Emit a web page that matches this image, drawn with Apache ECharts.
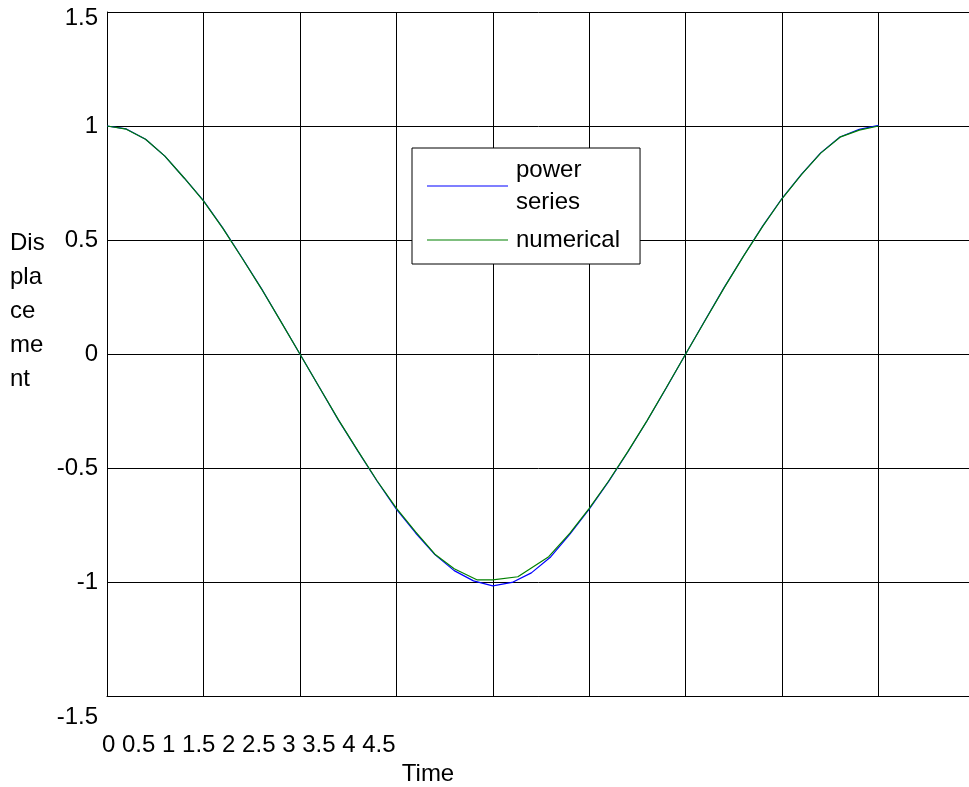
<!DOCTYPE html>
<html>
<head>
<meta charset="utf-8">
<script src="https://cdn.jsdelivr.net/npm/echarts@6/dist/echarts.min.js"></script>
<style>html,body{margin:0;padding:0;background:#fff;overflow:hidden;}#chart{width:969px;height:787px;}</style>
</head>
<body>
<div id="chart"></div>
<script>
// ---- data ----
const xTickLabels = ['0','0.5','1','1.5','2','2.5','3','3.5','4','4.5'];
const yTickLabels = ['-1.5','-1','-0.5','0','0.5','1','1.5'];
const seriesNames = ['power series', 'numerical'];
const xAxisTitle = 'Time';
const yAxisTitle = 'Dis\npla\nce\nme\nnt';

const powerTime = [0.0,0.1,0.2,0.3,0.4,0.5,0.6,0.7,0.8,0.9,1.0,1.1,1.2,1.3,1.4,1.5,1.6,1.7,1.8,1.9,2.0,
  2.1,2.2,2.3,2.4,2.5,2.6,2.7,2.8,2.9,3.0,3.1,3.2,3.3,3.4,3.5,3.6,3.7,3.8,3.9,4.0];
const powerValues = [1.000,0.987,0.942,0.868,0.772,0.673,0.553,0.422,0.288,0.145,0.000,
  -0.145,-0.290,-0.425,-0.557,-0.680,-0.785,-0.880,-0.950,-0.995,-1.017,
  -1.002,-0.960,-0.890,-0.790,-0.680,-0.560,-0.430,-0.293,-0.148,0.000,
  0.147,0.292,0.430,0.562,0.683,0.788,0.882,0.952,0.985,1.003];

const numTime = [0.0,0.1,0.2,0.3,0.4,0.5,0.6,0.7,0.8,0.9,1.0,1.1,1.2,1.3,1.4,1.5,1.6,1.7,1.8,1.92,2.0,
  2.13,2.29,2.4,2.5,2.6,2.7,2.8,2.9,3.0,3.1,3.2,3.3,3.4,3.5,3.6,3.7,3.8,3.9,4.0];
const numValues = [1.000,0.986,0.942,0.868,0.772,0.672,0.552,0.421,0.287,0.144,0.000,
  -0.145,-0.289,-0.424,-0.556,-0.676,-0.780,-0.878,-0.942,-0.991,-0.991,
  -0.977,-0.889,-0.786,-0.677,-0.558,-0.428,-0.292,-0.147,0.000,
  0.146,0.291,0.429,0.561,0.682,0.787,0.881,0.951,0.982,1.000];

// ---- chart ----
const FONT = '"Liberation Sans", Arial, Helvetica, sans-serif';
const FS = 24;
const chart = echarts.init(document.getElementById('chart'), null, {renderer: 'canvas'});
const zip = (t, v) => t.map((x, i) => [x, v[i]]);

chart.setOption({
  animation: false,
  backgroundColor: '#fff',
  textStyle: {fontFamily: FONT},
  grid: {left: 107, top: 12, bottom: 91, width: 868, containLabel: false, outerBoundsMode: 'none'},
  xAxis: {
    type: 'value', min: 0, max: 4.5, interval: 0.5,
    name: xAxisTitle, nameLocation: 'middle', nameGap: 76,
    nameTextStyle: {fontFamily: FONT, fontSize: FS, color: '#000', align: 'center', verticalAlign: 'middle', padding: [0, 226, 0, 0]},
    axisLine: {show: true, onZero: false, lineStyle: {color: '#000', width: 1}},
    axisTick: {show: false},
    splitLine: {show: true, lineStyle: {color: '#000', width: 1}},
    axisLabel: {
      show: true, margin: 37, fontFamily: FONT, fontSize: FS, color: '#000', align: 'left',
      padding: [0, 0, 0, -5],
      formatter: (v) => (v === 0 ? xTickLabels.join(' ') : '')
    }
  },
  yAxis: {
    type: 'value', min: -1.5, max: 1.5, interval: 0.5,
    axisLine: {show: true, lineStyle: {color: '#000', width: 1}},
    axisTick: {show: false},
    splitLine: {show: true, lineStyle: {color: '#000', width: 1}},
    axisLabel: {
      margin: 9, fontFamily: FONT, fontSize: FS, color: '#000',
      formatter: (v) => {
        const s = yTickLabels[Math.round((v + 1.5) / 0.5)];
        if (v === -1.5) return '{lo|' + s + '}';
        if (v === 1.5) return '{hi|' + s + '}';
        return s;
      },
      rich: {
        lo: {fontFamily: FONT, fontSize: FS, color: '#000', padding: [42, 0, 0, 0]},
        hi: {fontFamily: FONT, fontSize: FS, color: '#000', padding: [12, 0, 0, 0]}
      }
    }
  },
  graphic: [{
    type: 'text', left: 10, top: 226, silent: true,
    style: {text: yAxisTitle, font: FS + 'px ' + FONT, fill: '#000', lineHeight: 34}
  }],
  legend: {
    show: true, orient: 'vertical', left: 412, top: 148,
    backgroundColor: '#fff', borderColor: '#000', borderWidth: 1, borderRadius: 0,
    padding: [6, 20, 8, 15], itemGap: 6, itemWidth: 81, itemHeight: 1.2, icon: 'rect',
    selectedMode: false,
    textStyle: {fontFamily: FONT, fontSize: FS, color: '#000', lineHeight: 32, padding: [0, 0, 0, 3]},
    formatter: (n) => n.replace(' ', '\n'),
    data: seriesNames
  },
  series: [
    {name: seriesNames[0], type: 'line', data: zip(powerTime, powerValues), showSymbol: false,
     color: '#0000ff', lineStyle: {color: '#0000ff', width: 1.2}, z: 3},
    {name: seriesNames[1], type: 'line', data: zip(numTime, numValues), showSymbol: false,
     color: '#008000', lineStyle: {color: '#008000', width: 1.2}, z: 4}
  ]
});
</script>
</body>
</html>
